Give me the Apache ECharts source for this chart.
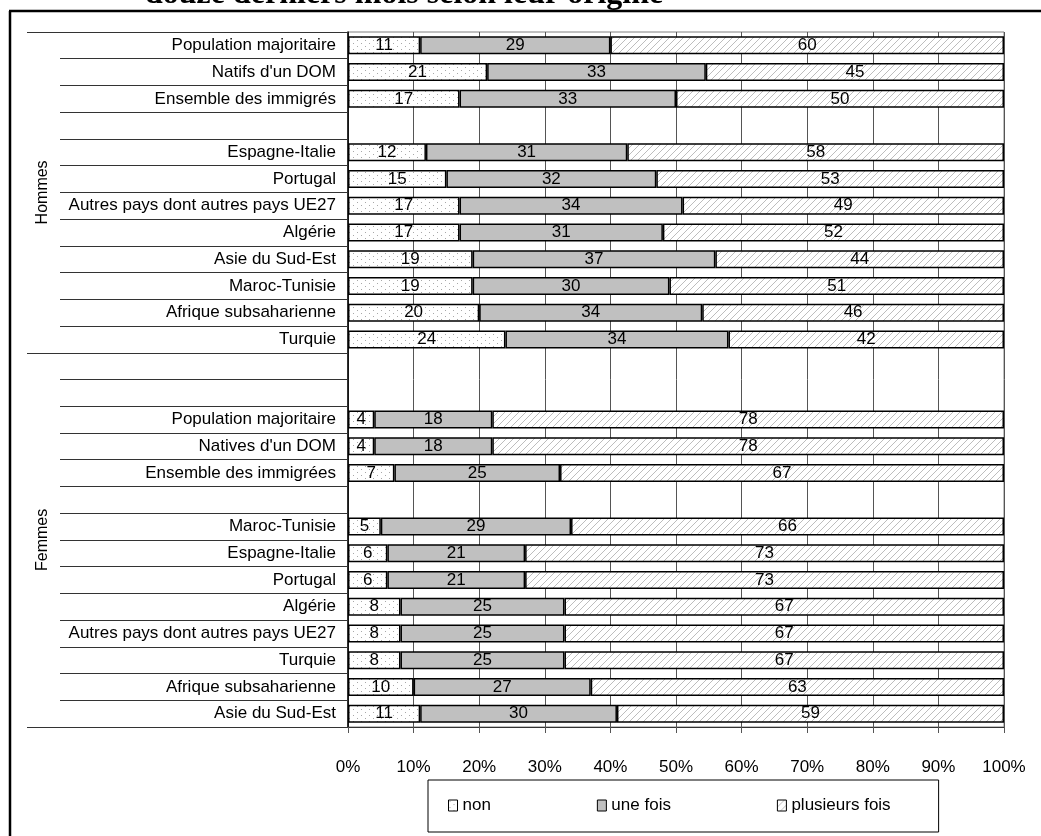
<!DOCTYPE html>
<html><head><meta charset="utf-8">
<script src="https://cdn.jsdelivr.net/npm/echarts@6/dist/echarts.min.js"></script>
<style>html,body{margin:0;padding:0;background:#fff}#c{width:1041px;height:836px}</style>
</head><body><div id="c"></div>
<script>
const categories = ["Population majoritaire","Natifs d'un DOM","Ensemble des immigrés","",
  "Espagne-Italie","Portugal","Autres pays dont autres pays UE27","Algérie","Asie du Sud-Est",
  "Maroc-Tunisie","Afrique subsaharienne","Turquie","","",
  "Population majoritaire","Natives d'un DOM","Ensemble des immigrées","",
  "Maroc-Tunisie","Espagne-Italie","Portugal","Algérie","Autres pays dont autres pays UE27",
  "Turquie","Afrique subsaharienne","Asie du Sud-Est"];
const nonVals       = [11,21,17,null,12,15,17,17,19,19,20,24,null,null,4,4,7,null,5,6,6,8,8,8,10,11];
const uneFoisVals   = [29,33,33,null,31,32,34,31,37,30,34,34,null,null,18,18,25,null,29,21,21,25,25,25,27,30];
const plusieursVals = [60,45,50,null,58,53,49,52,44,51,46,42,null,null,78,78,67,null,66,73,73,67,67,67,63,59];
const seriesNames = ["non","une fois","plusieurs fois"];
const groupNames = ["Hommes","Femmes"];
const groupStarts = [0,12];   // category index where each group starts
const tickLabels = ["0%","10%","20%","30%","40%","50%","60%","70%","80%","90%","100%"];
const titleText = "douze derniers mois selon leur origine";

function dotPattern(){const c=document.createElement('canvas');c.width=8;c.height=6;const g=c.getContext('2d');
  g.fillStyle='#fff';g.fillRect(0,0,8,6);g.fillStyle='#a8a8a8';g.fillRect(1,1,1,1);g.fillRect(5,4,1,1);return c;}
function hatchPattern(){const c=document.createElement('canvas');c.width=7;c.height=7;const g=c.getContext('2d');
  g.fillStyle='#fff';g.fillRect(0,0,7,7);g.strokeStyle='#bdbdbd';g.lineWidth=1;g.beginPath();
  g.moveTo(0,7);g.lineTo(7,0);g.moveTo(-2,2);g.lineTo(2,-2);g.moveTo(5,9);g.lineTo(9,5);g.stroke();return c;}

const fills = [{image:dotPattern(),repeat:'repeat'}, '#c0c0c0', {image:hatchPattern(),repeat:'repeat'}];
const allVals = [nonVals, uneFoisVals, plusieursVals];
const FONT = "'Liberation Sans',Arial,sans-serif";

const series = allVals.map((vals, s) => ({
  name: seriesNames[s], type: 'bar', stack: 'tot', barWidth: 18,
  itemStyle: { color: fills[s], borderColor: '#000', borderWidth: 1.5 },
  label: { show: true, position: 'inside', color: '#000', fontSize: 17, fontFamily: FONT,
           formatter: p => p.data && p.data.raw != null ? String(p.data.raw) : '' },
  data: vals.map((v, i) => {
    if (v == null) return '-';
    const tot = nonVals[i] + uneFoisVals[i] + plusieursVals[i];
    return { value: v / tot * 100, raw: v };
  })
}));

const chart = echarts.init(document.getElementById('c'), null, {renderer:'canvas'});
const option = {
  animation: false,
  backgroundColor: '#fff',
  grid: { left: 348, right: 37, top: 32, bottom: 109, show: true, borderColor: '#808080', borderWidth: 1 },
  xAxis: { type: 'value', min: 0, max: 100, interval: 10,
    axisLine: { show: true, lineStyle: { color: '#333', width: 1 } },
    axisTick: { show: true, length: 6, lineStyle: { color: '#555' } },
    splitLine: { show: true, lineStyle: { color: '#555', width: 1 } },
    axisLabel: { color: '#000', fontSize: 17, fontFamily: FONT, margin: 32,
      formatter: (v) => tickLabels[Math.round(v/10)] } },
  yAxis: { type: 'category', inverse: true, data: categories,
    axisLine: { show: true, lineStyle: { color: '#000', width: 1.5 } },
    axisTick: { show: true, length: 288, interval: 0, lineStyle: { color: '#333', width: 1 } },
    axisLabel: { color: '#000', fontSize: 17, fontFamily: FONT, margin: 12, interval: 0 },
    splitLine: { show: false } },
  legend: { data: seriesNames, left: 428, top: 780, orient: 'horizontal', icon: 'rect',
    itemWidth: 9, itemHeight: 11, itemGap: 106,
    itemStyle: { borderColor: '#000', borderWidth: 1 },
    textStyle: { color: '#000', fontSize: 17, fontFamily: FONT },
    borderColor: '#000', borderWidth: 1, padding: [17, 48, 18, 20], backgroundColor: '#fff' },
  series: series
};
chart.setOption(option);

const yA = chart.convertToPixel({yAxisIndex:0}, 0);
const yB = chart.convertToPixel({yAxisIndex:0}, 1);
const band = yB - yA;
const top0 = yA - band/2;
const xL = chart.convertToPixel({xAxisIndex:0}, 0);
const bounds = groupStarts.concat([categories.length]);
const g = [];
bounds.forEach(b => {
  const y = Math.round(top0 + b*band) + 0.5;
  g.push({ type:'line', shape:{x1:27,y1:y,x2:xL,y2:y}, style:{stroke:'#333',lineWidth:1}, z:10 });
});
groupNames.forEach((n, k) => {
  const yc = top0 + (bounds[k] + bounds[k+1]) / 2 * band;
  g.push({ type:'text', x:43, y:yc, rotation:Math.PI/2,
    style:{ text:n, fill:'#000', font:"16px 'Liberation Sans', Arial, sans-serif",
      align:'center', verticalAlign:'middle' }, z:10 });
});
// frame
g.push({ type:'line', shape:{x1:9,y1:11,x2:1041,y2:11}, style:{stroke:'#000',lineWidth:2.5}, z:10 });
g.push({ type:'line', shape:{x1:10,y1:11,x2:10,y2:836}, style:{stroke:'#000',lineWidth:2.5}, z:10 });
g.push({ type:'text', x:145, y:11, style:{ text:titleText, fill:'#000',
  font:"bold 32px 'Liberation Serif', 'Times New Roman', serif", align:'left', verticalAlign:'bottom' }, z:10 });
chart.setOption({ graphic: g });
</script>
</body></html>
